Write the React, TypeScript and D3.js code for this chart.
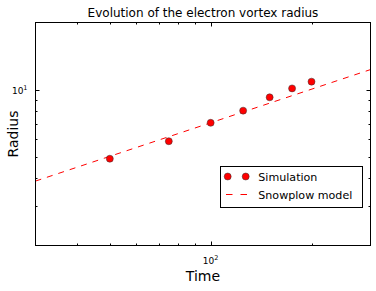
import React, { useEffect, useRef } from 'react';
import * as d3 from 'd3';

const WIDTH = 376;
const HEIGHT = 291;

// simulation samples (time, radius)
const simTimes = [50, 75, 100, 125, 150, 175, 200];
const simRadius = [4.9, 5.87, 7.1, 8.05, 9.24, 10.13, 10.86];

// snowplow model (straight line on log-log), end points
const modelTimes = [30, 300];
const modelRadius = [3.89, 12.3];

const xMajorTicks = [100];
const xMinorTicks = [40, 50, 60, 70, 80, 90, 200];
const yMajorTicks = [10];
const yMinorTicks = [3, 4, 5, 6, 7, 8, 9];

const FONT = 'DejaVu Sans, sans-serif';

export default function App() {
  const svgRef = useRef<SVGSVGElement>(null);

  useEffect(() => {
    if (!svgRef.current) return;
    const svg = d3.select(svgRef.current);
    svg.selectAll('*').remove();

    const margin = { left: 35.5, right: 5.5, top: 22.5, bottom: 45.5 };
    const x = d3.scaleLog().domain([30, 300]).range([margin.left, WIDTH - margin.right]);
    const y = d3.scaleLog().domain([2, 20]).range([HEIGHT - margin.bottom, margin.top]);
    const [x0, x1] = x.range();
    const [y0, y1] = y.range();

    svg.append('rect').attr('width', WIDTH).attr('height', HEIGHT).attr('fill', '#fff');

    svg.append('defs').append('clipPath').attr('id', 'plotClip')
      .append('rect')
      .attr('x', x0).attr('y', y1)
      .attr('width', x1 - x0).attr('height', y0 - y1);

    // title
    svg.append('text')
      .attr('x', (x0 + x1) / 2).attr('y', 17)
      .attr('text-anchor', 'middle')
      .attr('font-family', FONT).attr('font-size', '12px')
      .text('Evolution of the electron vortex radius');

    // model line
    const line = d3.line<number>()
      .x((_, i) => x(modelTimes[i]))
      .y(d => y(d));
    svg.append('path')
      .datum(modelRadius)
      .attr('d', line)
      .attr('clip-path', 'url(#plotClip)')
      .attr('fill', 'none')
      .attr('stroke', '#ff0000')
      .attr('stroke-width', 1)
      .attr('stroke-dasharray', '6,6');

    // simulation points
    svg.append('g').selectAll('circle')
      .data(simTimes)
      .join('circle')
      .attr('cx', d => x(d))
      .attr('cy', (_, i) => y(simRadius[i]))
      .attr('r', 3.5)
      .attr('fill', '#ff0000')
      .attr('stroke', '#333')
      .attr('stroke-width', 0.5);

    // ticks, inside on all four sides
    const ticks = svg.append('g').attr('stroke', '#000').attr('stroke-width', 1);
    const xTick = (v: number, len: number) => {
      const px = Math.round(x(v)) + 0.5;
      ticks.append('line').attr('x1', px).attr('x2', px).attr('y1', y0).attr('y2', y0 - len);
      ticks.append('line').attr('x1', px).attr('x2', px).attr('y1', y1).attr('y2', y1 + len);
    };
    const yTick = (v: number, len: number) => {
      const py = Math.round(y(v)) + 0.5;
      ticks.append('line').attr('x1', x0).attr('x2', x0 + len).attr('y1', py).attr('y2', py);
      ticks.append('line').attr('x1', x1).attr('x2', x1 - len).attr('y1', py).attr('y2', py);
    };
    xMajorTicks.forEach(v => xTick(v, 4));
    xMinorTicks.forEach(v => xTick(v, 2));
    yMajorTicks.forEach(v => yTick(v, 4));
    yMinorTicks.forEach(v => yTick(v, 2));

    // frame
    svg.append('rect')
      .attr('x', x0).attr('y', y1)
      .attr('width', x1 - x0).attr('height', y0 - y1)
      .attr('fill', 'none').attr('stroke', '#000').attr('stroke-width', 1);

    // tick labels 10^n
    xMajorTicks.forEach(v => {
      const t = svg.append('text')
        .attr('x', x(v)).attr('y', y0 + 18)
        .attr('text-anchor', 'middle')
        .attr('font-family', FONT).attr('font-size', '9px');
      t.append('tspan').text('10');
      t.append('tspan').attr('dy', -4).attr('font-size', '6.5px').text(String(Math.round(Math.log10(v))));
    });
    yMajorTicks.forEach(v => {
      const t = svg.append('text')
        .attr('x', x0 - 8).attr('y', y(v) + 4.5)
        .attr('text-anchor', 'end')
        .attr('font-family', FONT).attr('font-size', '9px');
      t.append('tspan').text('10');
      t.append('tspan').attr('dy', -4).attr('font-size', '6.5px').text(String(Math.round(Math.log10(v))));
    });

    // axis labels
    svg.append('text')
      .attr('x', (x0 + x1) / 2).attr('y', 281)
      .attr('text-anchor', 'middle')
      .attr('font-family', FONT).attr('font-size', '14px')
      .text('Time');
    svg.append('text')
      .attr('transform', `translate(17.5,${(y0 + y1) / 2}) rotate(-90)`)
      .attr('text-anchor', 'middle')
      .attr('font-family', FONT).attr('font-size', '14px')
      .text('Radius');

    // legend
    const lg = svg.append('g');
    lg.append('rect')
      .attr('x', 220.5).attr('y', 166.5)
      .attr('width', 142).attr('height', 41)
      .attr('fill', '#fff').attr('stroke', '#000').attr('stroke-width', 1);
    [227.7, 245.7].forEach(cx => {
      lg.append('circle')
        .attr('cx', cx).attr('cy', 176.5).attr('r', 3.5)
        .attr('fill', '#ff0000').attr('stroke', '#333').attr('stroke-width', 0.5);
    });
    lg.append('line')
      .attr('x1', 226).attr('x2', 247).attr('y1', 194.5).attr('y2', 194.5)
      .attr('stroke', '#ff0000').attr('stroke-width', 1).attr('stroke-dasharray', '6.5,8');
    lg.append('text')
      .attr('x', 258.3).attr('y', 180.5)
      .attr('font-family', FONT).attr('font-size', '11.1px')
      .text('Simulation');
    lg.append('text')
      .attr('x', 258.3).attr('y', 198.5)
      .attr('font-family', FONT).attr('font-size', '11.1px')
      .text('Snowplow model');
  }, []);

  return (
    <svg
      ref={svgRef}
      width={WIDTH}
      height={HEIGHT}
      style={{ position: 'absolute', left: 0, top: 0, display: 'block' }}
    />
  );
}
